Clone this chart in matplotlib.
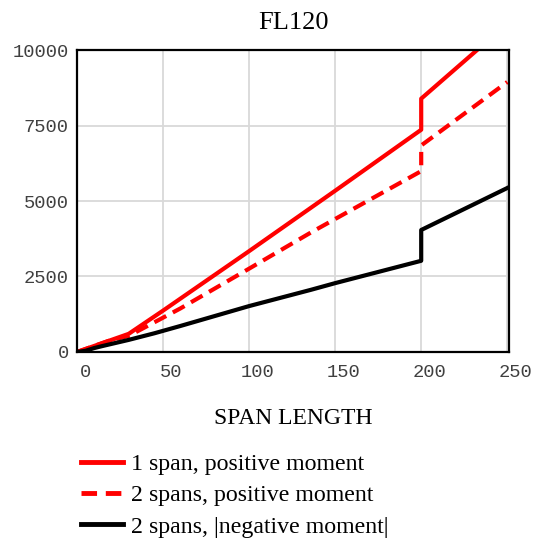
import matplotlib
matplotlib.use("Agg")
import matplotlib.pyplot as plt
from matplotlib.transforms import ScaledTranslation

# --- data ---
span_1pos = [0, 10, 20, 30, 50, 100, 150, 200, 200, 250]
mom_1pos = [0, 200, 400, 600, 1370, 3340, 5340, 7360, 8390, 10870]

span_2pos = [0, 10, 20, 30, 60, 100, 136, 200, 200, 250]
mom_2pos = [0, 200, 400, 530, 1440, 2760, 3960, 5990, 6840, 8940]

span_2neg = [0, 5, 10, 15, 30, 45, 60, 100, 136, 150, 200, 200, 250]
mom_2neg = [0, 40, 130, 200, 400, 620, 860, 1520, 2060, 2280, 3020, 4040, 5430]

x_ticks = [0, 50, 100, 150, 200, 250]
y_ticks = [0, 2500, 5000, 7500, 10000]
labels = ["1 span, positive moment",
          "2 spans, positive moment",
          "2 spans, |negative moment|"]

# --- style ---
SERIF = "Liberation Serif"
MONO = "Liberation Mono"
GRID_COLOR = "#d9d9d9"
TICK_COLOR = "#404040"
LW = 3.0
DASH = (0, (3.2, 1.8))

fig = plt.figure(figsize=(5.39, 5.42), dpi=100)
ax = fig.add_axes([0.1429, 0.3506, 0.8014, 0.5571])

ax.plot(span_1pos, mom_1pos, color="red", lw=LW, label=labels[0])
ax.plot(span_2pos, mom_2pos, color="red", lw=LW, ls=DASH, label=labels[1])
ax.plot(span_2neg, mom_2neg, color="black", lw=LW, label=labels[2])

ax.set_xlim(0, 251)
ax.set_ylim(0, 10000)
ax.set_xticks(x_ticks)
ax.set_yticks(y_ticks)
ax.grid(True, color=GRID_COLOR, lw=1.3)
ax.set_axisbelow(True)
for spine in ax.spines.values():
    spine.set_linewidth(1.6)
    spine.set_color("black")

ax.tick_params(length=0, labelsize=13.5, labelcolor=TICK_COLOR)
ax.tick_params(axis="x", pad=9)
ax.tick_params(axis="y", pad=6)
for lab in ax.get_xticklabels() + ax.get_yticklabels():
    lab.set_fontfamily(MONO)
# x tick labels sit a little to the right of the grid lines
shift = ScaledTranslation(8 / 100, 0, fig.dpi_scale_trans)
for lab in ax.get_xticklabels():
    lab.set_transform(lab.get_transform() + shift)

ax.set_title("FL120", fontfamily=SERIF, fontsize=19, pad=15)
ax.set_xlabel("SPAN LENGTH", fontfamily=SERIF, fontsize=17, labelpad=19)

leg = fig.legend(loc="upper left", bbox_to_anchor=(0.132, 0.181), frameon=False,
                 prop={"family": SERIF, "size": 17.2}, handlelength=1.75,
                 handletextpad=0.35, labelspacing=0.4, borderaxespad=0)
for line in leg.get_lines():
    line.set_linewidth(3.5)

fig.savefig("out.png", dpi=100, facecolor="white")
plt.close(fig)
